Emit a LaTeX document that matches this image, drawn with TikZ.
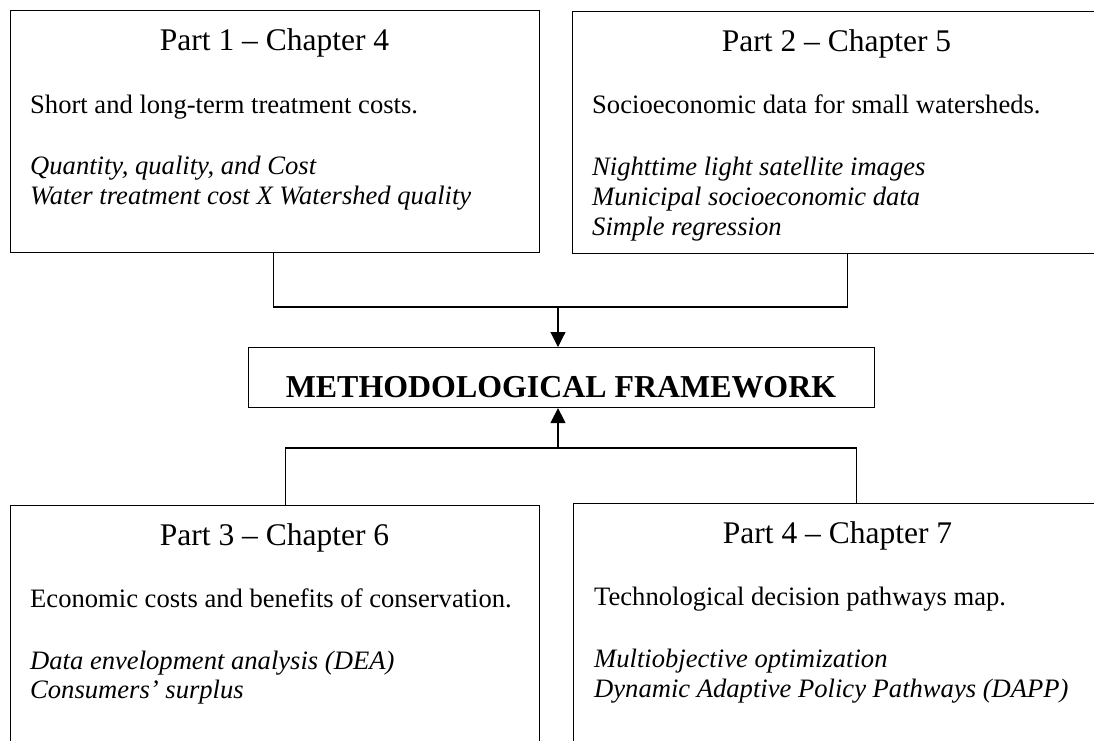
\documentclass[tikz,border=0pt]{standalone}
\usepackage{fontspec}
\setmainfont{Liberation Serif}
\usetikzlibrary{arrows.meta}
\begin{document}
\begin{tikzpicture}[x=1pt,y=-1pt,
  box/.style={draw=black,line width=1.1pt,rectangle,inner sep=0pt,anchor=north west},
  ttl/.style={inner sep=0pt,anchor=base,font=\fontsize{31.5}{36}\selectfont},
  bdy/.style={inner sep=0pt,anchor=base west,font=\fontsize{26.6}{30.6}\selectfont},
  itl/.style={bdy,font=\fontsize{26.6}{30.6}\selectfont\itshape},
  conn/.style={draw=black,line width=1.1pt},
  arr/.style={conn,-{Triangle[width=15pt,length=15pt]}}]
\clip (0,0) rectangle (1094,740);
% boxes
\node[box,minimum width=529pt,minimum height=242pt] (b1) at (10,10) {};
\node[box,minimum width=530pt,minimum height=242pt] (b2) at (572,11) {};
\node[box,minimum width=626pt,minimum height=60pt] (m) at (248,347) {};
\node[box,minimum width=529pt,minimum height=260pt] (b3) at (10,505) {};
\node[box,minimum width=530pt,minimum height=260pt] (b4) at (573,503) {};
% box 1 text
\node[ttl] (t1) at (274.5,50) {Part 1 – Chapter 4};
\node[bdy] (s1) at (30,113) {Short and long-term treatment costs.};
\node[itl] (i1a) at (30,174) {Quantity, quality, and Cost};
\node[itl] (i1b) at (30,204) {Water treatment cost X Watershed quality};
% box 2 text
\node[ttl] (t2) at (836.5,51) {Part 2 – Chapter 5};
\node[bdy] (s2) at (592,113) {Socioeconomic data for small watersheds.};
\node[itl] (i2a) at (592,175) {Nighttime light satellite images};
\node[itl] (i2b) at (592,205) {Municipal socioeconomic data};
\node[itl] (i2c) at (592,235) {Simple regression};
% methodological framework
\node[inner sep=0pt,anchor=base,font=\fontsize{31.9}{36}\selectfont\bfseries] (mt) at (561,397) {METHODOLOGICAL FRAMEWORK};
% box 3 text
\node[ttl] (t3) at (274.5,545) {Part 3 – Chapter 6};
\node[bdy] (s3) at (30,607) {Economic costs and benefits of conservation.};
\node[itl] (i3a) at (30,669) {Data envelopment analysis (DEA)};
\node[itl] (i3b) at (30,698) {Consumers’ surplus};
% box 4 text
\node[ttl] (t4) at (837.5,543) {Part 4 – Chapter 7};
\node[bdy] (s4) at (594,605) {Technological decision pathways map.};
\node[itl] (i4a) at (594,667) {Multiobjective optimization};
\node[itl] (i4b) at (594,697) {Dynamic Adaptive Policy Pathways (DAPP)};
% connectors
\coordinate (j1) at (558,307);
\coordinate (j2) at (558,448);
\draw[conn] ([xshift=-1.5pt]b1.south) |- (j1) -| ([xshift=9.5pt]b2.south);
\draw[arr] (j1) -- (j1 |- m.north);
\draw[conn] ([xshift=10.5pt]b3.north) |- (j2) -| ([xshift=17.5pt]b4.north);
\draw[arr] (j2) -- (j2 |- m.south);
\end{tikzpicture}
\end{document}
